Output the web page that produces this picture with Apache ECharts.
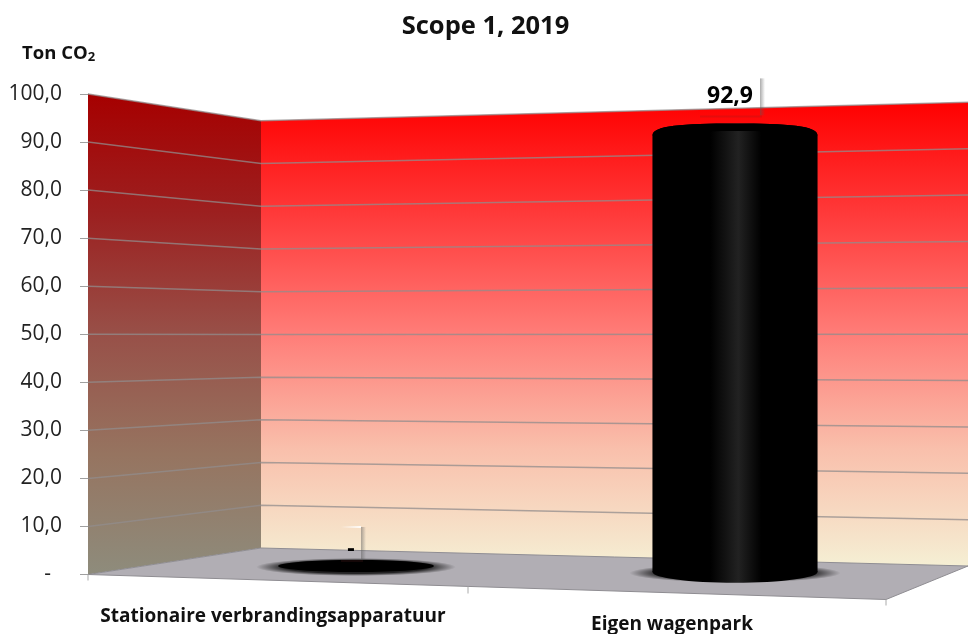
<!DOCTYPE html>
<html>
<head>
<meta charset="utf-8">
<style>html,body{margin:0;padding:0;background:#fff}#main{width:968px;height:634px}</style>
<script src="https://cdn.jsdelivr.net/npm/echarts@6/dist/echarts.min.js"></script>
</head>
<body>
<div id="main"></div>
<script>
var categories = ['Stationaire verbrandingsapparatuur', 'Eigen wagenpark'];
var values = [0, 92.9];
var yTicks = [10, 20, 30, 40, 50, 60, 70, 80, 90, 100];

var G = echarts.graphic;
var fontName = '"Open Sans", sans-serif';

function fmt(v) {
	return v === 0 ? '-' : v.toFixed(1).replace('.', ',');
}

// perspective of the walls: y on the corner and on the right side from the left axis
var leftX = 88, cornerX = 261, rightX = 968, frontX = 886;
function wallYs(api, v) {
	var y0 = api.coord([0, 0])[1];
	var h = y0 - api.coord([0, v])[1];
	return {
		left: y0 - h,
		corner: y0 - 26.5 - h * 0.889,
		right: y0 - 8.5 - h * 0.965
	};
}

function renderWalls(params, api) {
	var top = wallYs(api, 100), bot = wallYs(api, 0);
	return {
		type: 'group',
		children: [
			{
				type: 'polygon',
				shape: {points: [[leftX, top.left], [cornerX, top.corner], [cornerX, bot.corner], [leftX, bot.left]]},
				style: {fill: new G.LinearGradient(0, 0, 0, 1, [
					{offset: 0, color: '#a60000'},
					{offset: 0.25, color: '#9c2020'},
					{offset: 0.5, color: '#985048'},
					{offset: 0.75, color: '#967460'},
					{offset: 1, color: '#8e8c7c'}
				])}
			},
			{
				type: 'polygon',
				shape: {points: [[cornerX, top.corner], [rightX, top.right], [rightX, bot.right], [cornerX, bot.corner]]},
				style: {fill: new G.LinearGradient(0, 0, 0, 1, [
					{offset: 0, color: '#ff0000'},
					{offset: 0.25, color: '#ff3c3c'},
					{offset: 0.5, color: '#ff7d78'},
					{offset: 0.75, color: '#f9c0ac'},
					{offset: 1, color: '#f5efd4'}
				])}
			},
			{
				type: 'polygon',
				shape: {points: [[leftX, bot.left], [cornerX, bot.corner], [rightX, bot.right], [frontX, bot.left + 25]]},
				style: {fill: '#b1aeb4', stroke: '#8f8d92', lineWidth: 1}
			},
			// ticks under the floor
			{type: 'line', shape: {x1: leftX, y1: bot.left, x2: leftX, y2: bot.left + 6}, style: {stroke: '#aaa', lineWidth: 1}},
			{type: 'line', shape: {x1: 468, y1: bot.left + 12, x2: 468, y2: bot.left + 19}, style: {stroke: '#aaa', lineWidth: 1}},
			{type: 'line', shape: {x1: frontX, y1: bot.left + 25, x2: frontX, y2: bot.left + 31}, style: {stroke: '#aaa', lineWidth: 1}}
		]
	};
}

function renderGridLine(params, api) {
	var w = wallYs(api, api.value(0));
	return {
		type: 'polyline',
		shape: {points: [[leftX, w.left], [cornerX, w.corner], [rightX, w.right]]},
		style: {stroke: 'rgba(145,140,140,0.75)', fill: 'none', lineWidth: 1.5}
	};
}

function renderCylinder(params, api) {
	var idx = api.value(0), v = api.value(1);
	var p0 = api.coord([idx, 0]), pv = api.coord([idx, v]);
	var cx = p0[0];
	var rx = 78 + (cx - 356) * 0.012;
	var ry = 6 + (cx - 356) * 0.0125;
	var baseY = p0[1] - 8.5 + (cx - 356) * 0.016;
	var topY = baseY - (p0[1] - pv[1]) * 0.985;
	var face = new G.LinearGradient(0, 0, 1, 0, [
		{offset: 0, color: '#000'},
		{offset: 0.35, color: '#000'},
		{offset: 0.52, color: '#222'},
		{offset: 0.66, color: '#000'},
		{offset: 1, color: '#000'}
	]);
	var kids = [{
		type: 'circle',
		x: cx, y: baseY + 1,
		scaleY: 0.09,
		shape: {cx: 0, cy: 0, r: rx * 1.28},
		style: {fill: new G.RadialGradient(0.5, 0.5, 0.5, [
			{offset: 0, color: 'rgba(0,0,0,0.85)'},
			{offset: 0.72, color: 'rgba(0,0,0,0.8)'},
			{offset: 1, color: 'rgba(0,0,0,0)'}
		])}
	}];
	if (v > 0) {
		var l = cx - rx, r = cx + rx;
		// flat cap with rounded shoulders
		var topEdge = 'M' + l + ' ' + (topY + 3) +
			'C' + l + ' ' + (topY - 7) + ' ' + (l + 30) + ' ' + (topY - 9) + ' ' + cx + ' ' + (topY - 9) +
			'C' + (r - 30) + ' ' + (topY - 9) + ' ' + r + ' ' + (topY - 7) + ' ' + r + ' ' + (topY + 3);
		kids.push({
			type: 'path',
			shape: {pathData: topEdge + 'L' + r + ' ' + baseY + 'L' + l + ' ' + baseY + 'Z'},
			style: {fill: face}
		});
		kids.push({type: 'ellipse', shape: {cx: cx, cy: baseY, rx: rx, ry: ry}, style: {fill: face}});
		kids.push({
			type: 'path',
			shape: {
				pathData: topEdge +
					'C' + (r - 20) + ' ' + (topY - 3) + ' ' + (l + 20) + ' ' + (topY - 3) + ' ' + l + ' ' + (topY + 3) + 'Z'
			},
			style: {fill: '#000'}
		});
	} else {
		kids.push({type: 'ellipse', shape: {cx: cx, cy: baseY, rx: rx, ry: ry}, style: {fill: '#000'}});
	}
	// label box: only its shadow shows
	var text = fmt(v);
	var half = 10 + (text.length - 1) * 6.67;
	var mid = cx - 5;
	var boxTop = topY - (v > 0 ? 54 : 39);
	var boxBot = boxTop + (v > 0 ? 37 : 33);
	kids.push({
		type: 'rect',
		shape: {x: mid + half, y: boxTop, width: 5, height: boxBot - boxTop},
		style: {fill: new G.LinearGradient(0, 0, 1, 0, [
			{offset: 0, color: 'rgba(90,90,90,0.5)'},
			{offset: 1, color: 'rgba(90,90,90,0)'}
		])}
	});
	kids.push({
		type: 'rect',
		shape: {x: mid - half, y: boxBot, width: half * 2 + 2, height: 2},
		style: {fill: 'rgba(110,40,40,0.18)'}
	});
	kids.push({
		type: 'rect',
		shape: {x: mid - half, y: boxTop - 1, width: half * 2, height: 2},
		style: {fill: new G.LinearGradient(0, 0, 1, 0, [
			{offset: 0, color: 'rgba(255,255,255,0)'},
			{offset: 1, color: 'rgba(255,255,255,0.9)'}
		])}
	});
	kids.push({
		type: 'text',
		style: {
			x: mid, y: boxTop + (v > 0 ? 18 : 22),
			text: text,
			align: 'center', verticalAlign: 'middle',
			font: 'bold 23px ' + fontName,
			fill: '#000'
		}
	});
	return {type: 'group', children: kids};
}

var chart = echarts.init(document.getElementById('main'), null, {renderer: 'canvas'});
chart.setOption({
	animation: false,
	backgroundColor: '#fff',
	title: [
		{
			text: 'Scope 1, 2019',
			left: 480.5, top: 9, textAlign: 'center',
			textStyle: {fontFamily: fontName, fontWeight: 'bold', fontSize: 25.5, color: '#111'}
		},
		{
			text: '{a|Ton CO}{s|2}',
			left: 17, top: 38,
			textStyle: {
				rich: {
					a: {fontFamily: fontName, fontWeight: 'bold', fontSize: 18.5, color: '#111'},
					s: {fontFamily: fontName, fontWeight: 'bold', fontSize: 13, color: '#111', padding: [8, 0, 0, 0]}
				}
			}
		}
	],
	grid: {left: 166.5, width: 758, top: 94, height: 480.5, outerBoundsMode: 'none'},
	xAxis: {
		type: 'category',
		data: categories,
		axisLine: {show: false},
		axisTick: {show: false},
		axisLabel: {
			interval: 0,
			margin: 33,
			formatter: function (value, i) {
				return i === 0 ? '{a|' + value + '}' : '{b|' + value + '}';
			},
			rich: {
				a: {fontFamily: fontName, fontWeight: 'bold', fontSize: 19, color: '#111', padding: [0, 166, 0, 0]},
				b: {fontFamily: fontName, fontWeight: 'bold', fontSize: 19, color: '#111', padding: [8, 126, 0, 0]}
			}
		}
	},
	yAxis: {
		type: 'value',
		min: 0, max: 100, interval: 10,
		offset: 78.5,
		axisLine: {show: true, lineStyle: {color: '#a0a0a0', width: 1}},
		axisTick: {show: true, length: 8, lineStyle: {color: '#a0a0a0'}},
		splitLine: {show: false},
		axisLabel: {
			margin: 26,
			fontFamily: fontName, fontSize: 21, color: '#222',
			// the dash sits inward, like the accounting format of the original
			formatter: function (v) { return v === 0 ? '-  ' : fmt(v); }
		}
	},
	series: [
		{type: 'custom', renderItem: renderWalls, data: [0], z: 1, silent: true},
		{
			type: 'custom',
			renderItem: renderGridLine,
			data: yTicks.map(function (v) { return [v]; }),
			dimensions: ['tick'],
			encode: {y: 0},
			z: 2,
			silent: true
		},
		{
			type: 'custom',
			renderItem: renderCylinder,
			data: values.map(function (v, i) { return [i, v]; }),
			encode: {x: 0, y: 1},
			z: 3
		}
	]
});
</script>
</body>
</html>
